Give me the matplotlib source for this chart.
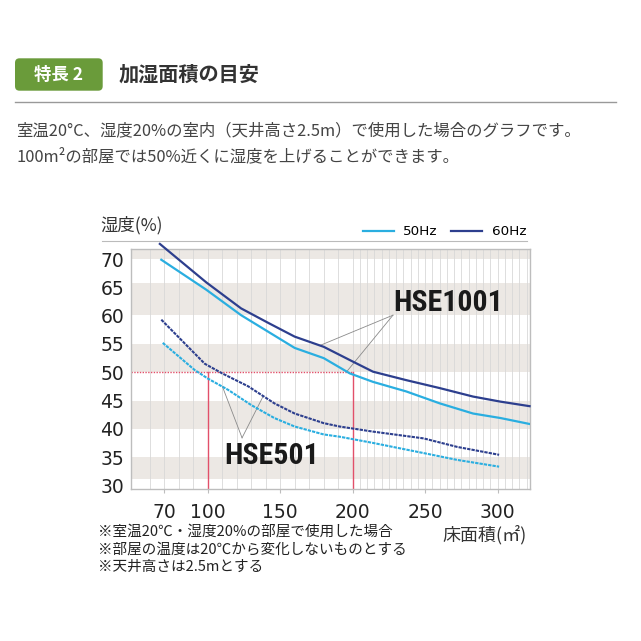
import numpy as np
import matplotlib
matplotlib.use("Agg")
import matplotlib.pyplot as plt
from matplotlib.patches import FancyBboxPatch
from matplotlib.lines import Line2D

plt.rcParams['font.family'] = ['Noto Sans CJK JP', 'DejaVu Sans']

# HSE1001 curves
x1001_60 = [67, 99, 123, 142, 160, 180, 200, 214, 237, 260, 283, 302, 322]
y1001_60 = [72.7, 65.9, 61.3, 58.7, 56.3, 54.5, 51.9, 50.1, 48.6, 47.2, 45.7, 44.8, 44.0]
x1001_50 = [68, 99, 123, 160, 180, 198, 214, 237, 260, 283, 302, 322]
y1001_50 = [69.9, 64.6, 60.1, 54.3, 52.5, 49.8, 48.3, 46.6, 44.5, 42.7, 41.9, 40.85]

# HSE501 curves
x501_60 = [68, 98, 110, 128, 146, 160, 180, 191, 214, 249, 272, 301]
y501_60 = [59.3, 51.5, 49.8, 47.5, 44.5, 42.7, 41.0, 40.4, 39.5, 38.3, 36.8, 35.4]
x501_50 = [69, 91, 100, 114, 130, 146, 160, 180, 191, 214, 249, 272, 301]
y501_50 = [55.2, 50.4, 48.9, 46.9, 44.2, 41.9, 40.4, 39.0, 38.6, 37.5, 35.7, 34.5, 33.3]

xticks = [70, 100, 150, 200, 250, 300]
yticks = [30, 35, 40, 45, 50, 55, 60, 65, 70]
bands = [(31.2, 35), (40, 45), (50, 55), (60.2, 65.8), (70, 72)]
marks_x = [100, 200]   # red guide lines
target_y = 50

footnotes = ["※室温20℃・湿度20%の部屋で使用した場合",
             "※部屋の温度は20℃から変化しないものとする",
             "※天井高さは2.5mとする"]

c50 = '#2aaee0'
c60 = '#2d3f8e'
red = '#e2506a'

W = 641.0
def fx(px):
    return px / W
def fy(py):
    return 1 - py / W

fig = plt.figure(figsize=(6.41, 6.41), dpi=100)
fig.patch.set_facecolor('white')

# header
box = FancyBboxPatch((fx(15), fy(90.7)), fx(102.7) - fx(15), fy(58.3) - fy(90.7),
                     boxstyle="round,pad=0,rounding_size=0.007",
                     transform=fig.transFigure, facecolor='#6a9b3a', edgecolor='none')
fig.patches.append(box)
fig.text(fx(59), fy(74.5), "特長 2", color='white', fontsize=12.5, fontweight='bold',
         ha='center', va='center')
fig.text(fx(119), fy(74.5), "加湿面積の目安", color='#333333', fontsize=14.5, fontweight='bold',
         ha='left', va='center')
fig.add_artist(Line2D([fx(15), fx(616)], [fy(102.3), fy(102.3)], color='#999999', lw=1.0,
                      transform=fig.transFigure))
fig.text(fx(16), fy(131), "室温20°C、湿度20%の室内（天井高さ2.5m）で使用した場合のグラフです。",
         color='#444444', fontsize=11.8, ha='left', va='center')
fig.text(fx(16), fy(157), "100m²の部屋では50%近くに湿度を上げることができます。",
         color='#444444', fontsize=11.8, ha='left', va='center')

# chart
ax = fig.add_axes([fx(131), fy(489), fx(530) - fx(131), fy(249) - fy(489)])
ax.set_xlim(47.1, 322.3)
ax.set_ylim(29.35, 71.8)

for lo, hi in bands:
    ax.axhspan(lo, hi, color='#ece8e4', lw=0, zorder=0)
for gx in list(range(60, 200, 10)) + list(range(200, 325, 5)):
    ax.axvline(gx, color='#d8d8d8', lw=0.6, zorder=1)

ax.plot([ax.get_xlim()[0], marks_x[1]], [target_y, target_y], color=red, lw=1.0,
        ls=(0, (1, 1)), zorder=2)
for mx in marks_x:
    ax.plot([mx, mx], [ax.get_ylim()[0], target_y], color=red, lw=1.0, zorder=2)

l50, = ax.plot(x1001_50, y1001_50, color=c50, lw=1.6, zorder=4, label='50Hz')
l60, = ax.plot(x1001_60, y1001_60, color=c60, lw=1.6, zorder=4, clip_on=False, label='60Hz')
ax.plot(x501_50, y501_50, color=c50, lw=1.5, ls=(0, (1.6, 0.5)), zorder=4)
ax.plot(x501_60, y501_60, color=c60, lw=1.5, ls=(0, (1.6, 0.5)), zorder=4)

# annotation pointers
apex = (227.8, 60.1)
for xs, ys, px in [(x1001_60, y1001_60, 177.4), (x1001_50, y1001_50, 195.9)]:
    ax.plot([apex[0], px], [apex[1], np.interp(px, xs, ys)], color='#8a8a8a', lw=0.6, zorder=3)
apex = (123.7, 38.4)
for xs, ys, px in [(x501_50, y501_50, 110.2), (x501_60, y501_60, 138.3)]:
    ax.plot([apex[0], px], [apex[1], np.interp(px, xs, ys)], color='#8a8a8a', lw=0.6, zorder=3)

hfont = ['Roboto Condensed', 'Liberation Sans Narrow', 'Roboto', 'DejaVu Sans']
ax.text(265.9, 62.3, "HSE1001", family=hfont, fontsize=21.5, fontweight='bold',
        color='#1a1a1a', ha='center', va='center', zorder=5)
ax.text(143.8, 35.2, "HSE501", family=hfont, fontsize=21.5, fontweight='bold',
        color='#1a1a1a', ha='center', va='center', zorder=5)

for s in ax.spines.values():
    s.set_color('#bdbdbd')
    s.set_linewidth(1.0)
ax.set_xticks(xticks)
ax.set_yticks(yticks)
ax.tick_params(axis='y', length=0, pad=5, labelsize=13.5, labelcolor='#222222')
ax.tick_params(axis='x', length=3, color='#bdbdbd', pad=7, labelsize=13.5, labelcolor='#222222')
for lab in ax.get_xticklabels() + ax.get_yticklabels():
    lab.set_family('DejaVu Sans')

ax.legend(handles=[l50, l60], ncol=2, frameon=False, loc='center right',
          bbox_to_anchor=(0.99, 1.072), handlelength=2.3, columnspacing=1.0,
          handletextpad=0.7, borderaxespad=0, borderpad=0,
          prop={'family': 'DejaVu Sans', 'size': 9.7})

fig.add_artist(Line2D([fx(101.7), fx(526.7)], [fy(240.7), fy(240.7)], color='#bbbbbb', lw=0.8,
                      transform=fig.transFigure))
fig.text(fx(100), fy(225), "湿度(%)", color='#333333', fontsize=12.5, ha='left', va='center')
fig.text(fx(527), fy(535), "床面積(㎡)", color='#333333', fontsize=13, ha='right', va='center')

for i, t in enumerate(footnotes):
    fig.text(fx(98), fy(531.7 + 17.5 * i), t, color='#222222', fontsize=10.5,
             ha='left', va='center')

fig.savefig('out.png', dpi=100, facecolor='white')
